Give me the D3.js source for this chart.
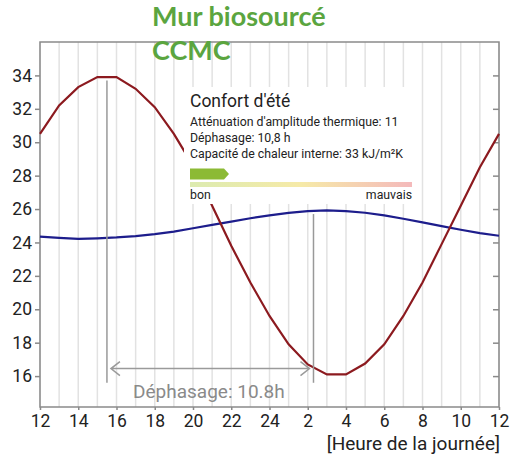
<!DOCTYPE html>
<html>
<head>
<meta charset="utf-8">
<script src="https://cdn.jsdelivr.net/npm/d3@7"></script>
<style>
  body { margin: 0; background: #fff; }
  svg { display: block; font-family: Roboto, sans-serif; }
</style>
</head>
<body>
<svg id="chart"></svg>
<script>
let width = 512,
  height = 459;

// Data : heures 12h -> 12h le lendemain
const hours = d3.range(0, 25);
const hourLabels = ["12", "14", "16", "18", "20", "22", "24", "2", "4", "6", "8", "10", "12"];
const tempOutside = [30.5, 32.2, 33.3, 33.9, 33.9, 33.2, 32.1, 30.5, 28.6, 26.2, 23.8, 21.6, 19.6,
  17.9, 16.7, 16.1, 16.1, 16.75, 17.9, 19.6, 21.6, 23.9, 26.2, 28.5, 30.5];
const tempInside = [24.35, 24.28, 24.22, 24.25, 24.3, 24.38, 24.5, 24.65, 24.85, 25.05, 25.25, 25.45, 25.62,
  25.77, 25.88, 25.92, 25.88, 25.78, 25.62, 25.42, 25.2, 24.98, 24.76, 24.56, 24.4];
const yTicks = [16, 18, 20, 22, 24, 26, 28, 30, 32, 34];
const phaseStart = 3.5,
  phaseShift = 10.8;
const infoLines = [
  "Atténuation d'amplitude thermique: 11",
  "Déphasage: 10,8 h",
  "Capacité de chaleur interne: 33 kJ/m²K",
];

let svg = d3.select("#chart").attr("width", width).attr("height", height);

let margin = { left: 40, right: 13, top: 42, bottom: 52 };

// Scales
var x = d3.scaleLinear().domain([0, 24]).range([margin.left, width - margin.right]);
var y = d3.scaleLinear().domain([14.15, 36]).range([height - margin.bottom, margin.top]);

// Vertical grid (every hour)
svg
  .append("g")
  .selectAll("line")
  .data(hours)
  .enter()
  .append("line")
  .attr("x1", (d) => x(d))
  .attr("x2", (d) => x(d))
  .attr("y1", y.range()[1])
  .attr("y2", y.range()[0])
  .attr("stroke", "#e2e2e2")
  .attr("stroke-width", 1.5);

// Frame
svg
  .append("rect")
  .attr("x", x(0))
  .attr("y", y.range()[1])
  .attr("width", x(24) - x(0))
  .attr("height", y.range()[0] - y.range()[1])
  .attr("fill", "none")
  .attr("stroke", "#8a8a8a")
  .attr("stroke-width", 1.5);

// Left axis
var yAxis = svg
  .append("g")
  .attr("transform", "translate(" + x(0) + ",0)")
  .call(d3.axisLeft(y).tickValues(yTicks).tickSize(5).tickPadding(3));
yAxis.select(".domain").remove();
yAxis.selectAll("line").attr("stroke", "#8a8a8a").attr("stroke-width", 1.5);
yAxis.selectAll("text").attr("fill", "#222").style("font-size", "17.5px").style("font-family", "Roboto");

// Right axis ticks (inward)
var yAxisR = svg
  .append("g")
  .attr("transform", "translate(" + x(24) + ",0)")
  .call(d3.axisLeft(y).tickValues(yTicks).tickSize(6).tickFormat(""));
yAxisR.select(".domain").remove();
yAxisR.selectAll("line").attr("stroke", "#8a8a8a").attr("stroke-width", 1.5);

// Bottom axis
var xAxis = svg
  .append("g")
  .attr("transform", "translate(0," + y.range()[0] + ")")
  .call(
    d3
      .axisBottom(x)
      .tickValues(d3.range(0, 25, 2))
      .tickSize(3)
      .tickPadding(5)
      .tickFormat((d, i) => hourLabels[i])
  );
xAxis.select(".domain").remove();
xAxis.selectAll("line").attr("stroke", "#8a8a8a").attr("stroke-width", 1.5);
xAxis.selectAll("text").attr("fill", "#222").style("font-size", "17.5px").style("font-family", "Roboto");

svg
  .append("text")
  .attr("x", x(24) + 1)
  .attr("y", 450)
  .attr("text-anchor", "end")
  .attr("fill", "#222")
  .style("font-size", "19px")
  .text("[Heure de la journée]");

// Curves
var line = d3
  .line()
  .x((d, i) => x(hours[i]))
  .y((d) => y(d));

svg
  .append("path")
  .datum(tempInside)
  .attr("d", line)
  .attr("fill", "none")
  .attr("stroke", "#1d1d8c")
  .attr("stroke-width", 2.2);

svg
  .append("path")
  .datum(tempOutside)
  .attr("d", line)
  .attr("fill", "none")
  .attr("stroke", "#8c1a1f")
  .attr("stroke-width", 2.2);

// Phase shift markers
svg
  .append("line")
  .attr("x1", x(phaseStart))
  .attr("x2", x(phaseStart))
  .attr("y1", y(33.7))
  .attr("y2", y(15.6))
  .attr("stroke", "#999")
  .attr("stroke-width", 1.5);

svg
  .append("line")
  .attr("x1", x(phaseStart + phaseShift))
  .attr("x2", x(phaseStart + phaseShift))
  .attr("y1", y(25.7))
  .attr("y2", y(15.6))
  .attr("stroke", "#999")
  .attr("stroke-width", 1.5);

let arrowY = y(16.45),
  ax1 = x(phaseStart) + 4,
  ax2 = x(phaseStart + phaseShift) - 4;

svg
  .append("path")
  .attr(
    "d",
    "M" + ax1 + "," + arrowY + "L" + ax2 + "," + arrowY +
      "M" + (ax1 + 9) + "," + (arrowY - 7) + "L" + ax1 + "," + arrowY + "L" + (ax1 + 9) + "," + (arrowY + 7) +
      "M" + (ax2 - 9) + "," + (arrowY - 7) + "L" + ax2 + "," + arrowY + "L" + (ax2 - 9) + "," + (arrowY + 7)
  )
  .attr("fill", "none")
  .attr("stroke", "#9a9a9a")
  .attr("stroke-width", 1.5);

svg
  .append("text")
  .attr("x", 133)
  .attr("y", 398)
  .attr("fill", "#8a8a8a")
  .style("font-size", "19px")
  .text("Déphasage: " + phaseShift + "h");

// Info box
var box = svg.append("g").attr("transform", "translate(184,87)");

box.append("rect").attr("width", 235).attr("height", 117).attr("fill", "#fff");

box
  .append("text")
  .attr("x", 6)
  .attr("y", 20)
  .attr("fill", "#222")
  .style("font-size", "17.5px")
  .text("Confort d'été");

box
  .selectAll("text.info")
  .data(infoLines)
  .enter()
  .append("text")
  .attr("class", "info")
  .attr("x", 6)
  .attr("y", (d, i) => 39 + i * 15.8)
  .attr("fill", "#222")
  .style("font-size", "12.3px")
  .text((d) => d);

var grad = svg
  .append("defs")
  .append("linearGradient")
  .attr("id", "comfort");
grad.append("stop").attr("offset", "0%").attr("stop-color", "#dcebb0");
grad.append("stop").attr("offset", "50%").attr("stop-color", "#f6eaa8");
grad.append("stop").attr("offset", "100%").attr("stop-color", "#f4b9bb");

box
  .append("rect")
  .attr("x", 6)
  .attr("y", 95)
  .attr("width", 222)
  .attr("height", 5)
  .attr("fill", "url(#comfort)");

box
  .append("path")
  .attr("d", "M6,81.5L40,81.5L45,87L40,92.5L6,92.5Z")
  .attr("fill", "#8cba35");

box
  .append("text")
  .attr("x", 6)
  .attr("y", 112)
  .attr("fill", "#222")
  .style("font-size", "12.3px")
  .text("bon");

box
  .append("text")
  .attr("x", 228)
  .attr("y", 112)
  .attr("text-anchor", "end")
  .attr("fill", "#222")
  .style("font-size", "12.3px")
  .text("mauvais");

// Title
var title = svg
  .append("text")
  .attr("fill", "#5ba53f")
  .style("font-family", "Lato, sans-serif")
  .style("font-weight", "bold")
  .style("font-size", "27px");
title.append("tspan").attr("x", 152).attr("y", 26).text("Mur biosourcé");
title.append("tspan").attr("x", 152).attr("y", 60).text("CCMC");
</script>
</body>
</html>
